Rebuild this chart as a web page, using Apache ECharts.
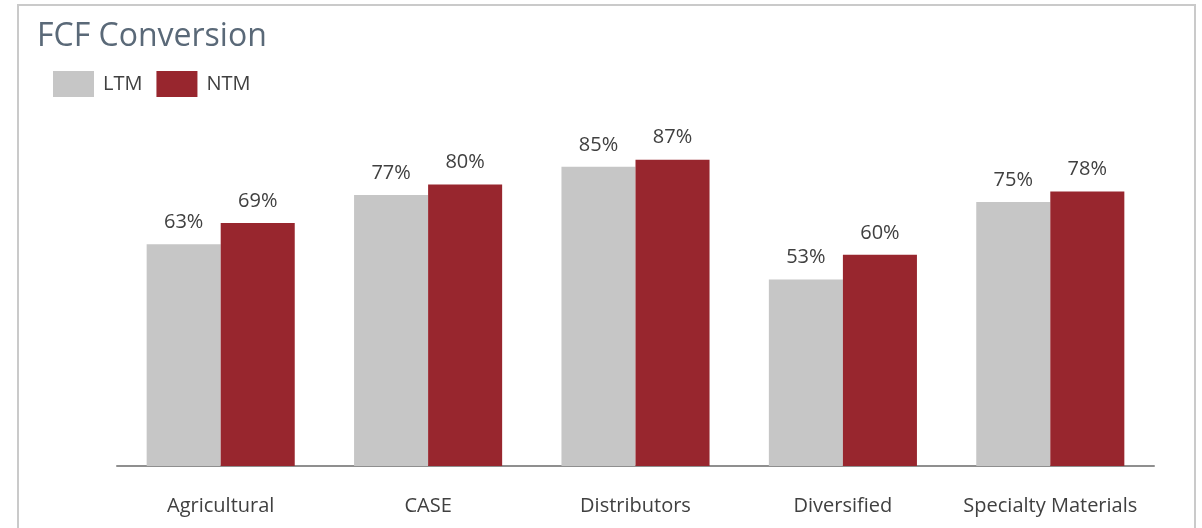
<!DOCTYPE html>
<html>
<head>
<meta charset="utf-8">
<script src="https://cdn.jsdelivr.net/npm/echarts@6/dist/echarts.min.js"></script>
<style>
  html, body { margin: 0; padding: 0; background: #ffffff; }
  #chart { width: 1202px; height: 528px; }
</style>
</head>
<body>
<div id="chart"></div>
<script>
const categories = ['Agricultural', 'CASE', 'Distributors', 'Diversified', 'Specialty Materials'];
const ltmValues = [63, 77, 85, 53, 75];
const ntmValues = [69, 80, 87, 60, 78];
const seriesNames = ['LTM', 'NTM'];

const TEXT = '#404040';
const FONT = '"Open Sans", "Noto Sans", sans-serif';

const labelStyle = {
  show: true,
  position: 'top',
  distance: 12,
  color: TEXT,
  fontFamily: FONT,
  fontSize: 20,
  formatter: p => p.value + '%'
};

const chart = echarts.init(document.getElementById('chart'), null, { renderer: 'canvas' });
chart.setOption({
  animation: false,
  backgroundColor: '#ffffff',
  title: {
    text: 'FCF Conversion',
    left: 32,
    top: 16,
    textStyle: { color: '#5a6978', fontFamily: FONT, fontSize: 32, fontWeight: 'normal' }
  },
  legend: {
    data: seriesNames,
    left: 48,
    top: 66,
    itemWidth: 41,
    itemHeight: 26,
    itemGap: 14,
    icon: 'rect',
    textStyle: { color: TEXT, fontFamily: FONT, fontSize: 20, padding: [0, 0, 0, 4] }
  },
  graphic: [{
    type: 'rect',
    silent: true,
    shape: { x: 18, y: 5, width: 1177, height: 600 },
    style: { fill: 'none', stroke: '#cacaca', lineWidth: 2 }
  }],
  grid: { left: 117, right: 48, top: 114, bottom: 62 },
  xAxis: {
    type: 'category',
    data: categories,
    axisLine: { lineStyle: { color: '#8f8f8f', width: 2 } },
    axisTick: { show: false },
    axisLabel: { interval: 0, color: TEXT, fontFamily: FONT, fontSize: 20, margin: 30 }
  },
  yAxis: {
    type: 'value',
    min: 0,
    max: 100,
    show: false,
    splitLine: { show: false }
  },
  series: [
    {
      name: seriesNames[0],
      type: 'bar',
      data: ltmValues,
      itemStyle: { color: '#c6c6c6' },
      barGap: '0%',
      barCategoryGap: '28.6%',
      label: labelStyle
    },
    {
      name: seriesNames[1],
      type: 'bar',
      data: ntmValues,
      itemStyle: { color: '#98262e' },
      barGap: '0%',
      barCategoryGap: '28.6%',
      label: labelStyle
    }
  ]
});
</script>
</body>
</html>
